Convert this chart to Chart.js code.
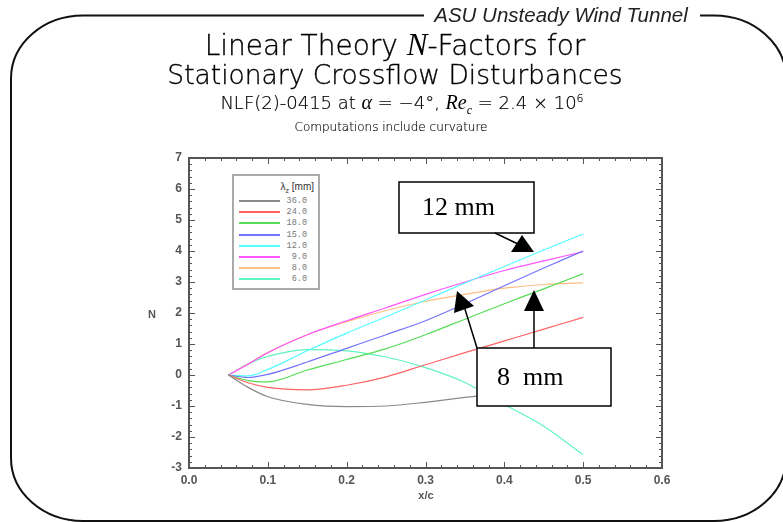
<!DOCTYPE html>
<html>
<head>
<meta charset="utf-8">
<script src="https://cdn.jsdelivr.net/npm/chart.js@4/dist/chart.umd.min.js"></script>
<style>
  body { margin: 0; background: #fff; }
  #wrap { position: relative; width: 783px; height: 522px; overflow: hidden; font-family: "DejaVu Sans", sans-serif; color: #000; }
  #chart { position: absolute; left: 0; top: 0; }
  .t { position: absolute; white-space: nowrap; transform: translate(-50%, -50%); font-weight: 200; -webkit-text-stroke: 0.35px #000; }
  .m { font-family: "Liberation Serif", "Times New Roman", serif; font-style: italic; font-weight: normal; -webkit-text-stroke: 0; }
  .lab { position: absolute; white-space: nowrap; font-family: "Liberation Sans", Arial, sans-serif; font-size: 11px; font-weight: bold; color: #555; transform: translate(-50%, -50%); }
  .note { position: absolute; font-family: "Liberation Serif", "Times New Roman", serif; font-size: 26px; color: #000; white-space: pre; transform: translateY(-50%); }
  #legend { position: absolute; left: 232px; top: 174px; width: 84px; height: 112px; border: 2px solid #aaa; background: #fff; }
  #legend .hd { position: absolute; right: 4px; top: 5px; font-family: "Liberation Sans", Arial, sans-serif; font-size: 10px; color: #333; }
  #legend .row { position: absolute; left: 5px; width: 70px; height: 10px; }
  #legend .ln { position: absolute; left: 0; top: 4px; width: 41px; height: 2px; }
  #legend .val { position: absolute; right: 2px; top: 0; font-family: "Liberation Mono", "DejaVu Sans Mono", monospace; font-size: 8.5px; color: #777; }
</style>
</head>
<body>
<div id="wrap">
  <canvas id="chart" width="783" height="522"></canvas>

  <div class="t" style="left:561px; top:15px; font-family:'Liberation Sans', Arial, sans-serif; font-weight:normal; -webkit-text-stroke:0; font-size:20.5px; font-style:italic; color:#222;">ASU Unsteady Wind Tunnel</div>
  <div class="t" style="left:395px; top:45px; font-size:28px;">Linear Theory <span class="m" style="font-size:31px">N</span>-Factors for</div>
  <div class="t" style="left:395px; top:74px; font-size:26.5px;">Stationary Crossflow Disturbances</div>
  <div class="t" style="left:402px; top:104px; font-size:18px; -webkit-text-stroke:0.2px #000;">NLF(2)-0415 at <span class="m" style="font-size:20px">α</span> = −4°, <span class="m" style="font-size:20px">Re<sub style="font-size:12px">c</sub></span> = 2.4 × 10<sup style="font-size:11px">6</sup></div>
  <div class="t" style="left:391px; top:127px; font-size:12px; -webkit-text-stroke:0.15px #000;">Computations include curvature</div>

  <div class="lab" style="left:152px; top:314px;">N</div>
  <div class="lab" style="left:426px; top:495px;">x/c</div>

  <div id="legend"><div class="hd">λ<sub style="font-size:7px">z</sub> [mm]</div></div>

  <div class="note" style="left:422px; top:207px;">12 mm</div>
  <div class="note" style="left:497px; top:377px;">8  mm</div>
</div>

<script>
// x/c stations and N-factor for each spanwise wavelength
const xc = [0.05, 0.075, 0.1, 0.15, 0.2, 0.25, 0.3, 0.35, 0.4, 0.45, 0.5];
const lambdaLabels = ['36.0', '24.0', '18.0', '15.0', '12.0', '9.0', '8.0', '6.0'];
const n36 = [0, -0.4, -0.7, -0.95, -1.02, -1.0, -0.88, -0.72, -0.6, -0.5, -0.4];
const n24 = [0, -0.25, -0.4, -0.48, -0.33, -0.06, 0.33, 0.72, 1.1, 1.48, 1.86];
const n18 = [0, -0.18, -0.22, 0.16, 0.5, 0.85, 1.3, 1.8, 2.3, 2.78, 3.27];
const n15 = [0, -0.08, 0.02, 0.42, 0.86, 1.3, 1.75, 2.3, 2.88, 3.45, 4.0];
const n12 = [0, -0.03, 0.18, 0.78, 1.35, 1.88, 2.42, 2.97, 3.5, 4.03, 4.55];
const n9 = [0, 0.35, 0.72, 1.3, 1.75, 2.17, 2.6, 3.0, 3.37, 3.68, 3.98];
const n8 = [0, 0.36, 0.73, 1.3, 1.72, 2.08, 2.38, 2.6, 2.8, 2.92, 2.97];
const n6 = [0, 0.36, 0.6, 0.82, 0.78, 0.58, 0.24, -0.24, -0.95, -1.65, -2.57];

const series = [n36, n24, n18, n15, n12, n9, n8, n6];
const colors = ['#8a8a8a', '#ff6464', '#55dd55', '#7474ff', '#55ffff', '#ff55ff', '#ffbf80', '#60f5c0'];

// legend built from the same arrays
const legend = document.getElementById('legend');
lambdaLabels.forEach((lab, i) => {
    const row = document.createElement('div');
    row.className = 'row';
    row.style.top = (20 + i * 11.2) + 'px';
    row.innerHTML = '<div class="ln" style="background:' + colors[i] + '"></div><div class="val">' + lab + '</div>';
    legend.appendChild(row);
});

const decor = {
    id: 'decor',
    afterDraw(chart) {
        const ctx = chart.ctx;
        const a = chart.chartArea;
        const xs = chart.scales.x, ys = chart.scales.y;
        ctx.save();

        // plot frame + inward ticks on all four sides
        ctx.strokeStyle = '#555';
        ctx.lineWidth = 1;
        ctx.beginPath();
        for (let k = 0; k <= 30; k++) {
            const px = Math.round(xs.getPixelForValue(k * 0.02)) + 0.5;
            const len = k % 5 === 0 ? 6 : 3;
            ctx.moveTo(px, a.bottom); ctx.lineTo(px, a.bottom - len);
            ctx.moveTo(px, a.top); ctx.lineTo(px, a.top + len);
        }
        for (let k = 0; k <= 50; k++) {
            const py = Math.round(ys.getPixelForValue(-3 + k * 0.2)) + 0.5;
            const len = k % 5 === 0 ? 6 : 3;
            ctx.moveTo(a.left, py); ctx.lineTo(a.left + len, py);
            ctx.moveTo(a.right, py); ctx.lineTo(a.right - len, py);
        }
        ctx.stroke();
        ctx.lineWidth = 2;
        ctx.strokeRect(a.left, a.top, a.right - a.left, a.bottom - a.top);

        // annotation boxes and arrows
        ctx.fillStyle = '#fff';
        ctx.strokeStyle = '#000';
        ctx.lineWidth = 1.5;
        ctx.fillRect(399, 182, 135, 51);
        ctx.strokeRect(399, 182, 135, 51);
        ctx.fillRect(477, 348, 134, 58);
        ctx.strokeRect(477, 348, 134, 58);

        ctx.beginPath();
        ctx.moveTo(495, 233); ctx.lineTo(518, 244);
        ctx.moveTo(477, 348); ctx.lineTo(464, 306);
        ctx.moveTo(534, 348); ctx.lineTo(534, 308);
        ctx.stroke();
        ctx.fillStyle = '#000';
        const tri = (p) => { ctx.beginPath(); ctx.moveTo(p[0], p[1]); ctx.lineTo(p[2], p[3]); ctx.lineTo(p[4], p[5]); ctx.closePath(); ctx.fill(); };
        tri([522, 235, 511, 252, 534, 252]);
        tri([457, 291, 454, 313, 474, 306]);
        tri([534, 290, 524, 311, 544, 311]);

        // rounded slide frame
        ctx.strokeStyle = '#111';
        ctx.lineWidth = 2;
        const L = 11, T = 15.5, R = 786, B = 521, rx = 72, ry = 63;
        ctx.beginPath();
        ctx.moveTo(424, T);
        ctx.lineTo(L + rx, T);
        ctx.ellipse(L + rx, T + ry, rx, ry, 0, -Math.PI / 2, Math.PI, true);
        ctx.lineTo(L, B - ry);
        ctx.ellipse(L + rx, B - ry, rx, ry, 0, Math.PI, Math.PI / 2, true);
        ctx.lineTo(R - rx, B);
        ctx.ellipse(R - rx, B - ry, rx, ry, 0, Math.PI / 2, 0, true);
        ctx.lineTo(R, T + ry);
        ctx.ellipse(R - rx, T + ry, rx, ry, 0, 0, -Math.PI / 2, true);
        ctx.lineTo(700, T);
        ctx.stroke();
        ctx.restore();
    }
};

const tickFont = { family: 'Liberation Sans, Arial, sans-serif', size: 12, weight: 'bold' };

new Chart(document.getElementById('chart').getContext('2d'), {
    type: 'line',
    data: {
        datasets: series.map((arr, i) => ({
            label: lambdaLabels[i],
            data: xc.map((x, j) => ({ x: x, y: arr[j] })),
            borderColor: colors[i],
            borderWidth: 1.2,
            pointRadius: 0,
            cubicInterpolationMode: 'monotone',
            fill: false
        }))
    },
    options: {
        responsive: false,
        animation: false,
        events: [],
        layout: { padding: { left: 149, top: 158, right: 121, bottom: 14 } },
        plugins: { legend: { display: false }, tooltip: { enabled: false } },
        scales: {
            x: {
                type: 'linear',
                min: 0, max: 0.6,
                afterFit(s) { s.height = 40; },
                grid: { display: false, drawTicks: false, tickLength: 0 },
                border: { display: false },
                ticks: { stepSize: 0.1, padding: 5, color: '#555', font: tickFont, maxRotation: 0, autoSkip: false, callback: v => v.toFixed(1) }
            },
            y: {
                min: -3, max: 7,
                afterFit(s) { s.width = 40; },
                grid: { display: false, drawTicks: false, tickLength: 0 },
                border: { display: false },
                ticks: { stepSize: 1, padding: 7, color: '#555', font: tickFont }
            }
        }
    },
    plugins: [decor]
});
</script>
</body>
</html>
